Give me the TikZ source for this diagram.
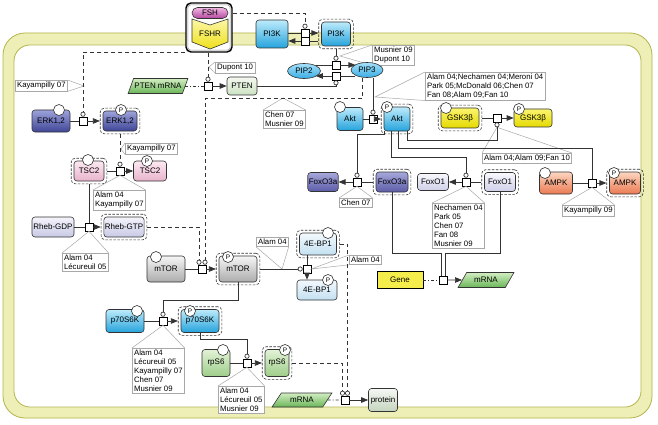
\documentclass[tikz,border=0pt]{standalone}
\usepackage{fontspec}
\setmainfont{Liberation Sans}
\usetikzlibrary{positioning,arrows.meta,fit,shapes.geometric}

\definecolor{cellband}{HTML}{EDEFB6}
\definecolor{cellline}{HTML}{B3B54C}
\definecolor{edge}{HTML}{333333}
\definecolor{notegray}{HTML}{A8A8A8}
\definecolor{erktop}{HTML}{9DA3DA}
\definecolor{erkbot}{HTML}{3F4597}
\definecolor{fxatop}{HTML}{A7A8DA}
\definecolor{fxabot}{HTML}{5B5CA8}
\definecolor{tsctop}{HTML}{FCE9F1}
\definecolor{tscbot}{HTML}{E8B3CC}
\definecolor{rhebtop}{HTML}{F4F4FB}
\definecolor{rhebbot}{HTML}{C8C9E5}
\definecolor{mtortop}{HTML}{F6F6F6}
\definecolor{mtorbot}{HTML}{ABABAB}
\definecolor{cyantop}{HTML}{BDEBFB}
\definecolor{cyanbot}{HTML}{25A3DC}
\definecolor{ebptop}{HTML}{F3F9FD}
\definecolor{ebpbot}{HTML}{C3E0F1}
\definecolor{fxotop}{HTML}{F8F8FD}
\definecolor{fxobot}{HTML}{CFCFE9}
\definecolor{gsktop}{HTML}{FBF56E}
\definecolor{gskbot}{HTML}{E4D900}
\definecolor{ampktop}{HTML}{FCD6C0}
\definecolor{ampkbot}{HTML}{EA7A52}
\definecolor{rpstop}{HTML}{E2F2D6}
\definecolor{rpsbot}{HTML}{9ECD8A}
\definecolor{ptentop}{HTML}{F4F9F0}
\definecolor{ptenbot}{HTML}{CCE2C2}
\definecolor{prottop}{HTML}{F6F8F4}
\definecolor{protbot}{HTML}{C4D4BC}
\definecolor{mrnatop}{HTML}{D2EDC2}
\definecolor{mrnabot}{HTML}{6AB658}
\definecolor{genefill}{HTML}{F5ED4C}
\definecolor{piptop}{HTML}{A4E0FA}
\definecolor{pipbot}{HTML}{3AADE3}
\definecolor{fshtop}{HTML}{F2B8E4}
\definecolor{fshbot}{HTML}{B3479F}
\definecolor{fshrtop}{HTML}{FBF7A8}
\definecolor{fshrbot}{HTML}{EFE01A}

\newcommand{\nodefont}{\fontsize{8}{9}\selectfont}
\newcommand{\notefont}{\fontsize{7.8}{8.9}\selectfont}

\tikzset{%
species/.style={draw=edge,rounded corners=3pt,font=\nodefont,inner sep=1pt,line width=0.6pt},
sz/.style 2 args={minimum width=#1pt,minimum height=#2pt},
stvar/.style={circle,draw=edge,fill=white,inner sep=0pt,minimum size=11pt,font=\fontsize{6.5}{6.5}\selectfont,line width=0.6pt},
active/.style={draw=edge,rounded corners=4pt,inner sep=2.5pt,line width=0.6pt,dash pattern=on 2.5pt off 1.5pt},
cplx/.style={draw=black,line width=1.4pt,rounded corners=5pt,fill=white,minimum width=46pt,minimum height=49pt},
process/.style={draw=black,fill=white,minimum size=8pt,inner sep=0pt,line width=0.6pt},
conv/.style={draw=edge,line width=0.7pt},
prod/.style={conv,-{Triangle[length=7pt,width=5.5pt]}},
catal/.style={conv,-{Circle[open,length=5pt,width=5pt]}},
trig/.style={catal,dash pattern=on 4pt off 3pt},
transl/.style={conv,dash pattern=on 3pt off 2pt on 1pt off 2pt},
note/.style={draw=notegray,fill=white,font=\notefont,align=left,inner sep=1.8pt,line width=0.5pt,anchor=north west},
pointer/.style={draw=notegray,line width=0.5pt},
rna/.style={trapezium,trapezium left angle=55,trapezium right angle=125,trapezium stretches=true,draw=edge,font=\nodefont,inner xsep=0pt,inner ysep=1pt,line width=0.6pt,top color=mrnatop,bottom color=mrnabot},
erkcol/.style={top color=erktop,bottom color=erkbot},
fxacol/.style={top color=fxatop,bottom color=fxabot},
tsccol/.style={top color=tsctop,bottom color=tscbot},
rhebcol/.style={top color=rhebtop,bottom color=rhebbot},
mtorcol/.style={top color=mtortop,bottom color=mtorbot},
cyancol/.style={top color=cyantop,bottom color=cyanbot},
ebpcol/.style={top color=ebptop,bottom color=ebpbot},
fxocol/.style={top color=fxotop,bottom color=fxobot},
gskcol/.style={top color=gsktop,bottom color=gskbot},
ampkcol/.style={top color=ampktop,bottom color=ampkbot},
rpscol/.style={top color=rpstop,bottom color=rpsbot},
ptencol/.style={top color=ptentop,bottom color=ptenbot},
protcol/.style={top color=prottop,bottom color=protbot},
pipcol/.style={top color=piptop,bottom color=pipbot},
fshcol/.style={top color=fshtop,bottom color=fshbot}
}

\begin{document}
\begin{tikzpicture}[x=1pt,y=-1pt]

    \useasboundingbox (0,0) rectangle (658,425);
    \fill[white] (0,0) rectangle (658,425);
    \draw[cellline,line width=0.8pt,fill=cellband,rounded corners=22pt] (3,33) rectangle (652,418);
    \draw[cellline,line width=0.8pt,fill=white,rounded corners=16pt] (14,45) rectangle (641,407);

    \node[note] (n1) at (15,80) {Kayampilly 07};
    \draw[pointer] (n1.north east) -- (84,86) -- (n1.south east);
    \node[note] (n2) at (215,62) {Dupont 10};
    \draw[pointer] (n2.north west) -- (209,67) -- (n2.south west);
    \node[note] (n3) at (125,143) {Kayampilly 07};
    \draw[pointer] (n3.north west) -- (121,149) -- (n3.south west);
    \node[note] (n4) at (93,190) {Alam 04\\Kayampilly 07};
    \node[note] (n5) at (62,253) {Alam 04\\Lécureuil 05};
    \node[note] (n6) at (263,110) {Chen 07\\Musnier 09};
    \draw[pointer] (n6.north west) -- (283,98) -- (n6.north east);
    \node[note] (n7) at (372,45) {Musnier 09\\Dupont 10};
    \draw[pointer] (n7.north west) -- (340,56) -- (n7.south west);
    \node[note] (n8) at (425,72) {Alam 04;Nechamen 04;Meroni 04\\Park 05;McDonald 06;Chen 07\\Fan 08;Alam 09;Fan 10};
    \draw[pointer] (n8.north west) -- (375,97) -- (n8.south west);
    \node[note] (n9) at (482,153) {Alam 04;Alam 09;Fan 10};
    \node[note] (n10) at (562,205) {Kayampilly 09};
    \node[note] (n11) at (339,198) {Chen 07};
    \node[note] (n12) at (432,203) {Nechamen 04\\Park 05\\Chen 07\\Fan 08\\Musnier 09};
    \node[note] (n13) at (256,237) {Alam 04};
    \draw[pointer] (n13.south west) -- (282,269) -- (n13.south east);
    \node[note] (n14) at (349,255) {Alam 04};
    \node[note] (n15) at (132,348) {Alam 04\\Lécureuil 05\\Kayampilly 07\\Chen 07\\Musnier 09};
    \node[note] (n16) at (218,386) {Alam 04\\Lécureuil 05\\Musnier 09};

    \node[cplx] (fshrcx) at (209,27.5) {};
    \draw[draw=black!45,line width=0.5pt,rounded corners=3pt] ([shift={(2.5,2.5)}]fshrcx.north west) rectangle ([shift={(-2.5,-2.5)}]fshrcx.south east);
    \draw[draw=edge,line width=0.6pt,top color=fshrtop,bottom color=fshrbot] (192,19) -- (210,25) -- (228,19) -- (228,42) -- (210,49) -- (192,42) -- cycle;
    \node[font=\nodefont] (fshr) at (210,34) {FSHR};
    \node[species,fshcol,sz={36}{11},rounded corners=5.5pt] (fsh) at (210,13) {FSH};

    \node[species,cyancol,sz={32}{28}] (pi3k) at (272,34) {PI3K};
    \node[species,cyancol,sz={29}{24}] (pi3kP) at (336,34) {PI3K};
    \node[active,fit=(pi3kP)] (pi3kPx) {};
    \node[species,ellipse,pipcol,sz={33}{15}] (pip2) at (304,71) {PIP2};
    \node[species,ellipse,pipcol,sz={32}{15}] (pip3) at (367,70) {PIP3};
    \node[rna,sz={60}{15}] (ptenm) at (158,86) {PTEN mRNA};
    \node[species,ptencol,sz={30}{18}] (pten) at (242,86) {PTEN};
    \node[species,erkcol,sz={38}{22}] (erk) at (51,121) {ERK1,2};
    \node[species,erkcol,sz={34}{20}] (erkP) at (120,121) {ERK1,2};
    \node[active,fit=(erkP)] (erkPx) {};
    \node[species,tsccol,sz={30}{20}] (tsc) at (89,171) {TSC2};
    \node[active,fit=(tsc)] (tscx) {};
    \node[species,tsccol,sz={33}{20}] (tscP) at (150,171) {TSC2};
    \node[species,rhebcol,sz={42}{20}] (rhebgdp) at (53,227) {Rheb-GDP};
    \node[species,rhebcol,sz={40}{20}] (rhebgtp) at (124,227) {Rheb-GTP};
    \node[active,fit=(rhebgtp)] (rhebgtpx) {};
    \node[species,mtorcol,sz={38}{26}] (mtor) at (166,269) {mTOR};
    \node[species,mtorcol,sz={38}{26}] (mtorP) at (238,269) {mTOR};
    \node[active,fit=(mtorP)] (mtorPx) {};
    \node[species,ebpcol,sz={37}{22}] (ebp) at (318,244) {4E-BP1};
    \node[active,fit=(ebp)] (ebpx) {};
    \node[species,ebpcol,sz={40}{20}] (ebpP) at (317,290) {4E-BP1};
    \node[species,cyancol,sz={38}{23}] (pk) at (125,321) {p70S6K};
    \node[species,cyancol,sz={38}{23}] (pkP) at (200,321) {p70S6K};
    \node[active,fit=(pkP)] (pkPx) {};
    \node[species,rpscol,sz={28}{27}] (rps) at (216,363) {rpS6};
    \node[species,rpscol,sz={24}{27}] (rpsP) at (277,363) {rpS6};
    \node[active,fit=(rpsP)] (rpsPx) {};
    \node[rna,sz={60}{14}] (mrnab) at (302,400) {mRNA};
    \node[species,protcol,sz={29}{23}] (protein) at (383,400) {protein};
    \node[species,cyancol,sz={26}{23}] (akt) at (350,119) {Akt};
    \node[species,cyancol,sz={26}{24}] (aktP) at (397,119) {Akt};
    \node[active,fit=(aktP)] (aktPx) {};
    \node[species,gskcol,sz={38}{20}] (gsk) at (460,118) {GSK3β};
    \node[active,fit=(gsk)] (gskx) {};
    \node[species,gskcol,sz={38}{18}] (gskP) at (533,118) {GSK3β};
    \node[species,fxacol,sz={30}{19}] (foxo3) at (323,182) {FoxO3a};
    \node[species,fxacol,sz={32}{20}] (foxo3P) at (392,182) {FoxO3a};
    \node[active,fit=(foxo3P)] (foxo3Px) {};
    \node[species,fxocol,sz={31}{17}] (foxo1) at (433,182) {FoxO1};
    \node[species,fxocol,sz={31}{19}] (foxo1P) at (500,182) {FoxO1};
    \node[active,fit=(foxo1P)] (foxo1Px) {};
    \node[species,ampkcol,sz={33}{22}] (ampk) at (556,183) {AMPK};
    \node[species,ampkcol,sz={31}{22}] (ampkP) at (625,183) {AMPK};
    \node[active,fit=(ampkP)] (ampkPx) {};
    \node[draw=black,fill=genefill,font=\nodefont,line width=0.6pt,sz={46}{17}] (gene) at (400,280) {Gene};
    \node[rna,sz={56}{15}] (mrna) at (486,280) {mRNA};

    \node[stvar] (erkS) at (59,110) {};
    \node[stvar] (erkPS) at (121,110) {P};
    \node[stvar] (tscS) at (88,160) {};
    \node[stvar] (tscPS) at (147,161) {P};
    \node[stvar] (mtorS) at (156,257) {};
    \node[stvar] (mtorPS) at (228,257) {P};
    \node[stvar] (ebpS) at (328,233) {};
    \node[stvar] (ebpPS) at (328,280) {P};
    \node[stvar] (pkS) at (137,311) {};
    \node[stvar] (pkPS) at (190,311) {P};
    \node[stvar] (rpsS) at (223,350) {};
    \node[stvar] (rpsPS) at (285,350) {P};
    \node[stvar] (aktS) at (340,107) {};
    \node[stvar] (aktPS) at (387,107) {P};
    \node[stvar] (gskS) at (446,108) {};
    \node[stvar] (gskPS) at (519,109) {P};
    \node[stvar] (ampkS) at (545,173) {};
    \node[stvar] (ampkPS) at (614,173) {P};

    \node[process] (prPI3Ka) at (305,33) {};
    \node[process] (prPI3Kb) at (305,41) {};
    \node[process] (prPIPa) at (336,65) {};
    \node[process] (prPIPb) at (336,76) {};
    \node[process] (prPTEN) at (208,86) {};
    \node[process] (prERK) at (83,121) {};
    \node[process] (prTSC) at (120,171) {};
    \node[process] (prRheb) at (89,227) {};
    \node[process] (prMTOR) at (202,269) {};
    \node[process] (prEBP) at (307,269) {};
    \node[process] (prPK) at (163,321) {};
    \node[process] (prRPS) at (247,363) {};
    \node[process] (prProt) at (345,400) {};
    \node[process] (prAkt) at (373,119) {};
    \node[process] (prGSK) at (497,118) {};
    \node[process] (prFoxo3) at (357,182) {};
    \node[process] (prFoxo1) at (466,182) {};
    \node[process] (prAMPK) at (592,183) {};
    \node[process] (prGene) at (443,280) {};

    \draw[pointer] (n4.north west) -- (prTSC.south) -- (n4.north east);
    \draw[pointer] (n5.north west) -- (prRheb.south) -- (n5.north east);
    \draw[pointer] (n9.north west) -- ([shift={(0,5)}]prGSK.south) -- (n9.north east);
    \draw[pointer] (n10.north west) -- (prAMPK.south) -- (n10.north east);
    \draw[pointer] (n11.north west) -- (prFoxo3.south) -- (n11.north east);
    \draw[pointer] (n12.north west) -- (prFoxo1.south) -- (n12.north east);
    \draw[pointer] (n14.north west) -- (prEBP.east) -- (n14.south west);
    \draw[pointer] (n15.north west) -- (prPK.south) -- (n15.north east);
    \draw[pointer] (n16.north west) -- (prRPS.south) -- (n16.north east);

    \draw[conv] (pi3k.east |- prPI3Ka) -- (prPI3Ka);
    \draw[prod] (prPI3Ka) -- (pi3kPx.west |- prPI3Ka);
    \draw[conv] (pi3kPx.west |- prPI3Kb) -- (prPI3Kb);
    \draw[prod] (prPI3Kb) -- (pi3k.east |- prPI3Kb);
    \draw[trig] (fshrcx.east |- fsh) -| (prPI3Ka.north);
    \draw[conv] (pip2.north east |- prPIPa) -- (prPIPa);
    \draw[prod] (prPIPa) -- (pip3.north west |- prPIPa);
    \draw[conv] (pip3.south west |- prPIPb) -- (prPIPb);
    \draw[prod] (prPIPb) -- (pip2.south east |- prPIPb);
    \draw[catal] (pi3kPx) -- (prPIPa);
    \draw[catal] (pten.east) -| (prPIPb.south);
    \draw[transl] (ptenm) -- (prPTEN);
    \draw[prod] (prPTEN) -- (pten);
    \draw[trig] (fshrcx.south -| prPTEN) -- (prPTEN.north);
    \draw[trig] (fshrcx.south west) -| (prERK.north);

    \draw[conv] (erk) -- (prERK);
    \draw[prod] (prERK) -- (erkPx);
    \draw[trig] (erkPx) -- (prTSC);
    \draw[conv] (tscx) -- (prTSC);
    \draw[prod] (prTSC) -- (tscP);
    \draw[conv] (tscx) -- (prRheb);
    \draw[conv] (rhebgdp) -- (prRheb);
    \draw[prod] (prRheb) -- (rhebgtpx);
    \draw[trig] (rhebgtpx.east) -| ([xshift=-3pt]prMTOR.north);
    \draw[trig] ([xshift=-5pt]pip3.south) -- ++(0,20.5) -| ([xshift=3pt]prMTOR.north);
    \draw[conv] (mtor) -- (prMTOR);
    \draw[prod] (prMTOR) -- (mtorPx);
    \draw[catal] (mtorPx) -- (prEBP);
    \draw[conv] (ebp.south -| prEBP) -- (prEBP);
    \draw[prod] (prEBP) -- (prEBP |- ebpP.north);
    \draw[trig] (ebpx.east) -| ([xshift=2.5pt]prProt.north);
    \draw[trig] (rpsPx.east) -| ([xshift=-2.5pt]prProt.north);
    \draw[transl] (mrnab) -- (prProt);
    \draw[prod] (prProt) -- (protein);
    \draw[catal] (mtorP.south) -- ++(0,18) -| (prPK.north);
    \draw[conv] (pk) -- (prPK);
    \draw[prod] (prPK) -- (pkPx);
    \draw[catal] (pkP.south) -- ++(0,7) -| (prRPS.north);
    \draw[conv] (rps) -- (prRPS);
    \draw[prod] (prRPS) -- (rpsPx);

    \draw[catal] (prAkt |- pip3.south) -- (prAkt.north);
    \draw[conv] (akt) -- (prAkt);
    \draw[prod] (prAkt) -- (aktPx);
    \draw[conv] (gskx) -- (prGSK);
    \draw[prod] (prGSK) -- (gskP);
    \draw[catal] ([xshift=-3pt]aktP.south east) -- ++(0,9) -| (prGSK.south);
    \draw[conv] ([xshift=1pt]aktP.south) -- ++(0,17) -| (prAMPK.north);
    \draw[catal] ([xshift=-6pt]aktP.south) -- ++(0,26) -| (prFoxo1.north);
    \draw[catal] ([xshift=1pt]aktP.south west) -- ++(0,3) -| (prFoxo3.north);
    \draw[conv] (foxo3Px) -- (prFoxo3);
    \draw[prod] (prFoxo3) -- (foxo3);
    \draw[conv] (foxo1Px) -- (prFoxo1);
    \draw[prod] (prFoxo1) -- (foxo1);
    \draw[conv] (ampk) -- (prAMPK);
    \draw[prod] (prAMPK) -- (ampkPx);
    \draw[conv] (foxo3P.south) -- ++(0,61) -| ([xshift=-2pt]prGene.north);
    \draw[conv] (foxo1P.south) -- ++(0,61.5) -| ([xshift=2pt]prGene.north);
    \draw[transl] (gene) -- (prGene);
    \draw[prod] (prGene) -- (mrna);

\end{tikzpicture}
\end{document}
